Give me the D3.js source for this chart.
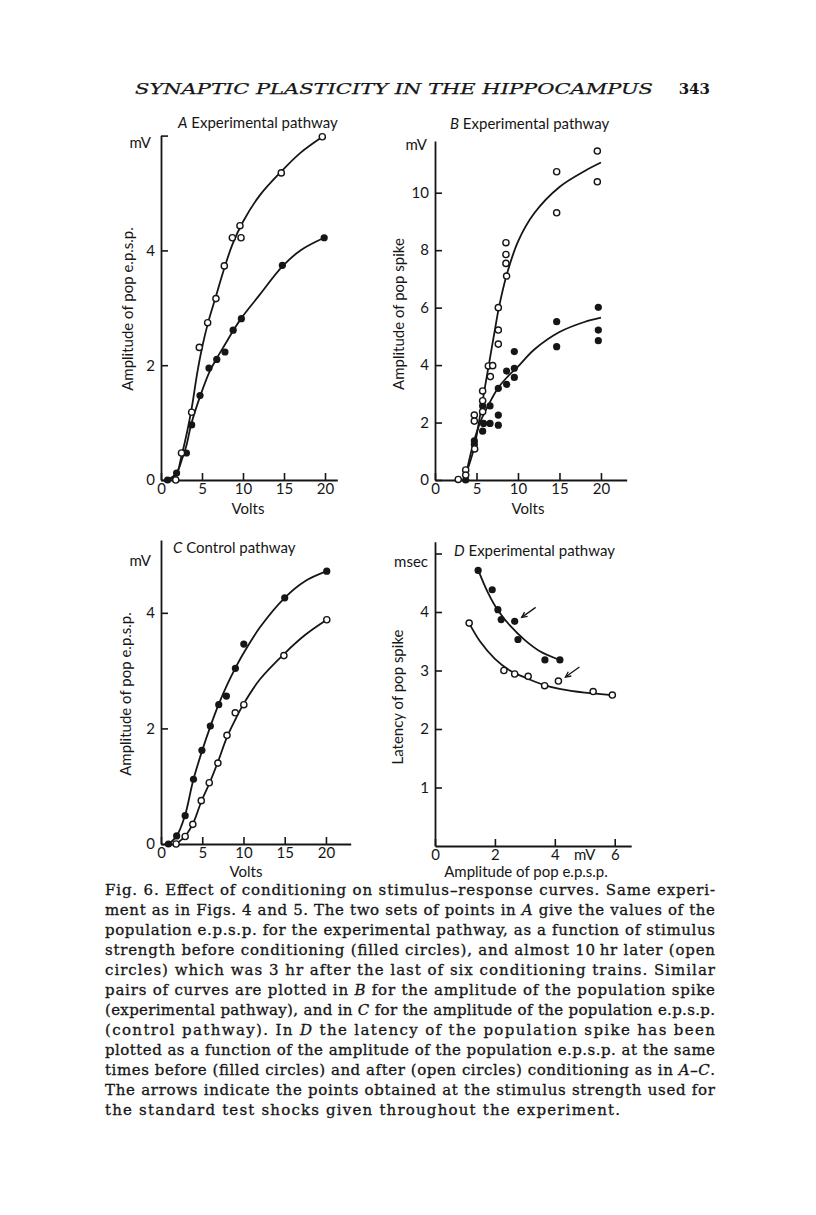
<!DOCTYPE html>
<html><head><meta charset="utf-8">
<script src="https://cdn.jsdelivr.net/npm/d3@7"></script>
<style>
body{margin:0;background:#fff;}
svg{display:block;}
</style></head><body>
<svg id="c" width="816" height="1215"></svg>
<script>
// ---------- DATA ----------
// Panel A: amplitude of pop e.p.s.p. (mV) vs stimulus (Volts)
const aFilled = [[0.8,0],[1.9,0.12],[3.1,0.47],[3.74,0.96],[4.76,1.47],[5.85,1.95],[6.8,2.10],[7.8,2.23],[8.8,2.61],[9.8,2.81],[14.8,3.74],[19.9,4.22]];
const aOpen   = [[1.8,0],[2.5,0.47],[3.74,1.18],[4.67,2.31],[5.69,2.74],[6.7,3.16],[7.72,3.73],[8.7,4.22],[9.63,4.43],[9.76,4.22],[14.67,5.35],[19.67,5.98]];
const aFilledCurve = [[0.8,0],[1.9,0.12],[2.6,0.38],[3.1,0.6],[3.7,0.98],[4.8,1.47],[5.9,1.88],[6.8,2.12],[7.8,2.36],[8.8,2.6],[9.8,2.82],[12,3.22],[14.8,3.72],[17,4.0],[19.9,4.22]];
const aOpenCurve   = [[0.8,0],[1.8,0.07],[2.5,0.42],[3.2,0.85],[3.8,1.3],[4.4,1.85],[5.0,2.3],[5.7,2.72],[6.7,3.2],[7.7,3.68],[8.7,4.1],[10,4.5],[12,4.95],[14.7,5.38],[17,5.7],[19.7,5.98]];
const aXTicks = [0,5,10,15,20];
const aYTicks = [0,2,4,6];

// Panel B: amplitude of pop spike (mV) vs stimulus (Volts)
const bOpen = [[2.8,0.02],[3.7,0.35],[3.7,0.17],[4.74,2.26],[4.74,2.05],[4.78,1.08],[5.74,2.76],[5.74,2.38],[5.74,3.10],[6.43,3.97],[6.95,3.98],[6.67,3.6],[7.63,6.0],[7.63,5.22],[7.63,4.73],[8.55,8.26],[8.55,7.85],[8.55,7.54],[8.63,7.1],[14.66,10.73],[14.66,9.3],[19.56,11.45],[19.56,10.38]];
const bFilled = [[3.7,0],[4.74,1.36],[4.74,1.24],[5.74,2.58],[5.74,1.7],[5.85,1.97],[6.63,2.58],[6.63,1.97],[7.63,3.19],[7.63,2.26],[7.63,1.91],[8.63,3.79],[8.63,3.33],[9.56,4.47],[9.56,3.89],[9.56,3.57],[14.66,5.51],[14.66,4.64],[19.68,6.01],[19.68,5.22],[19.68,4.85]];
const bOpenCurve   = [[3.5,0],[4.7,1.1],[5.4,2.2],[6.0,3.2],[6.6,4.2],[7.2,5.2],[7.7,6.0],[8.6,7.1],[10,8.3],[12,9.3],[15,10.2],[18,10.75],[20,11.05]];
const bFilledCurve = [[3.6,0],[4.6,1.25],[5.5,2.05],[6.6,2.7],[7.6,3.2],[8.6,3.55],[10,3.95],[12,4.55],[15,5.15],[18,5.5],[20,5.65]];
const bXTicks = [0,5,10,15,20];
const bYTicks = [0,2,4,6,8,10];

// Panel C: control pathway, amplitude of pop e.p.s.p. (mV) vs Volts
const cFilled = [[0.9,0],[1.9,0.14],[2.93,0.49],[3.94,1.12],[4.96,1.62],[5.98,2.04],[7.0,2.41],[7.93,2.56],[9.02,3.04],[10.04,3.46],[15.0,4.26],[20.1,4.72]];
const cOpen   = [[1.83,0],[2.93,0.13],[3.86,0.34],[4.88,0.75],[5.85,1.06],[6.9,1.40],[8.0,1.88],[9.0,2.27],[10.04,2.41],[14.9,3.26],[20.1,3.88]];
const cFilledCurve = [[0.9,0],[1.9,0.14],[2.9,0.49],[3.9,1.1],[5,1.62],[6,2.04],[7,2.42],[8,2.75],[9,3.04],[10,3.3],[12,3.75],[15,4.26],[17.5,4.55],[20.1,4.72]];
const cOpenCurve   = [[1.8,0],[2.9,0.13],[3.9,0.36],[4.9,0.74],[5.9,1.06],[6.9,1.42],[8,1.85],[9,2.15],[10,2.42],[12,2.85],[15,3.3],[17.5,3.62],[20.1,3.88]];
const cXTicks = [0,5,10,15,20];
const cYTicks = [0,2,4];

// Panel D: latency of pop spike (msec) vs amplitude of pop e.p.s.p. (mV)
const dFilled = [[1.44,4.71],[1.91,4.38],[2.10,4.04],[2.21,3.87],[2.66,3.84],[2.77,3.53],[3.67,3.18],[4.17,3.18]];
const dOpen   = [[1.14,3.81],[2.30,3.0],[2.66,2.94],[3.11,2.90],[3.66,2.74],[4.12,2.82],[5.28,2.64],[5.92,2.58]];
const dFilledCurve = [[1.44,4.72],[1.75,4.35],[2.1,4.03],[2.5,3.77],[3,3.52],[3.5,3.33],[4.17,3.18]];
const dOpenCurve   = [[1.14,3.81],[1.5,3.5],[2,3.2],[2.5,3.0],[3,2.88],[3.6,2.76],[4.2,2.68],[5,2.62],[5.92,2.58]];
const dArrowTargets = [[2.66,3.84],[4.12,2.82]];
const dXTicks = [0,2,4,6];
const dYTicks = [1,2,3,4,5];

const captionLines = [
  [["Fig. 6. Effect of conditioning on stimulus\u2013response curves. Same experi-",0]],
  [["ment as in Figs. 4 and 5. The two sets of points in ",0],["A",1],[" give the values of the",0]],
  [["population e.p.s.p. for the experimental pathway, as a function of stimulus",0]],
  [["strength before conditioning (filled circles), and almost 10\u2009hr later (open",0]],
  [["circles) which was 3 hr after the last of six conditioning trains. Similar",0]],
  [["pairs of curves are plotted in ",0],["B",1],[" for the amplitude of the population spike",0]],
  [["(experimental pathway), and in ",0],["C",1],[" for the amplitude of the population e.p.s.p.",0]],
  [["(control pathway). In ",0],["D",1],[" the latency of the population spike has been",0]],
  [["plotted as a function of the amplitude of the population e.p.s.p. at the same",0]],
  [["times before (filled circles) and after (open circles) conditioning as in ",0],["A\u2013C",1],[".",0]],
  [["The arrows indicate the points obtained at the stimulus strength used for",0]],
  [["the standard test shocks given throughout the experiment.",0]]
];

// ---------- DRAWING ----------
const svg = d3.select('#c');
const ink = '#161616';
const sans = 'Lato, "Open Sans", sans-serif';
const serif = '"DejaVu Serif", "Liberation Serif", serif';
const fs = 15;
svg.append('rect').attr('width',816).attr('height',1215).attr('fill','#fff');

function panel(cfg){
  const g = svg.append('g');
  const x = d3.scaleLinear().domain(cfg.xDomain).range(cfg.xRange);
  const y = d3.scaleLinear().domain(cfg.yDomain).range(cfg.yRange);
  const xa = g.append('g').attr('transform',`translate(0,${cfg.yRange[0]})`)
    .call(d3.axisBottom(x).tickValues(cfg.xTicks).tickSize(-7).tickSizeOuter(0).tickPadding(3)
      .tickFormat(cfg.xFmt || d3.format('d')));
  const ya = g.append('g').attr('transform',`translate(${cfg.xRange[0]},0)`)
    .call(d3.axisLeft(y).tickValues(cfg.yTicks).tickSize(-7).tickSizeOuter(0).tickPadding(6)
      .tickFormat(cfg.yFmt || d3.format('d')));
  [xa,ya].forEach(a=>{
    a.select('.domain').attr('stroke',ink).attr('stroke-width',1.8);
    a.selectAll('.tick line').attr('stroke',ink).attr('stroke-width',1.6);
    a.selectAll('.tick text').attr('fill',ink).attr('font-family',sans).attr('font-size',fs);
  });
  const line = d3.line().x(d=>x(d[0])).y(d=>y(d[1])).curve(d3.curveCatmullRom.alpha(0.5));
  cfg.curves.forEach(c=>{
    g.append('path').attr('d',line(c)).attr('fill','none').attr('stroke',ink).attr('stroke-width',1.8);
  });
  g.selectAll('circle.f').data(cfg.filled).join('circle').attr('class','f')
    .attr('cx',d=>x(d[0])).attr('cy',d=>y(d[1])).attr('r',3.6).attr('fill',ink);
  g.selectAll('circle.o').data(cfg.open).join('circle').attr('class','o')
    .attr('cx',d=>x(d[0])).attr('cy',d=>y(d[1])).attr('r',3.1)
    .attr('fill','#fff').attr('stroke',ink).attr('stroke-width',1.4);
  // title
  const t = g.append('text').attr('x',cfg.title.x).attr('y',cfg.title.y)
    .attr('font-family',sans).attr('font-size',fs).attr('fill',ink);
  t.append('tspan').attr('font-style','italic').text(cfg.title.letter);
  t.append('tspan').text(' ' + cfg.title.text);
  // unit
  g.append('text').attr('x',cfg.unit.x).attr('y',cfg.unit.y).attr('text-anchor','end')
    .attr('font-family',sans).attr('font-size',fs).attr('fill',ink).text(cfg.unit.text);
  // y label
  g.append('text').attr('transform',`translate(${cfg.ylab.x},${cfg.ylab.y}) rotate(-90)`)
    .attr('text-anchor','middle').attr('font-family',sans).attr('font-size',fs).attr('fill',ink).text(cfg.ylab.text);
  // x label
  g.append('text').attr('x',cfg.xlab.x).attr('y',cfg.xlab.y).attr('text-anchor','middle')
    .attr('font-family',sans).attr('font-size',fs).attr('fill',ink).text(cfg.xlab.text);
  return {g,x,y};
}

// Panel A
panel({
  xDomain:[0,21.5], xRange:[161,337.3], yDomain:[0,6], yRange:[480,135.6],
  xTicks:aXTicks, yTicks:aYTicks, yFmt:d=>d===6?'':d,
  curves:[aOpenCurve,aFilledCurve], filled:aFilled, open:aOpen,
  title:{x:178,y:128,letter:'A',text:'Experimental pathway'},
  unit:{x:151,y:148,text:'mV'},
  ylab:{x:133,y:309,text:'Amplitude of pop e.p.s.p.'},
  xlab:{x:248,y:514,text:'Volts'}
});
// Panel B
panel({
  xDomain:[0,23.1], xRange:[435,626.7], yDomain:[0,11.8], yRange:[480,141],
  xTicks:bXTicks, yTicks:bYTicks,
  curves:[bOpenCurve,bFilledCurve], filled:bFilled, open:bOpen,
  title:{x:450,y:129,letter:'B',text:'Experimental pathway'},
  unit:{x:427,y:150,text:'mV'},
  ylab:{x:404,y:314,text:'Amplitude of pop spike'},
  xlab:{x:528,y:514,text:'Volts'}
});
// Panel C
panel({
  xDomain:[0,23.0], xRange:[161,350.7], yDomain:[0,5.26], yRange:[844,540],
  xTicks:cXTicks, yTicks:cYTicks,
  curves:[cFilledCurve,cOpenCurve], filled:cFilled, open:cOpen,
  title:{x:173,y:553,letter:'C',text:'Control pathway'},
  unit:{x:151,y:566,text:'mV'},
  ylab:{x:131,y:694,text:'Amplitude of pop e.p.s.p.'},
  xlab:{x:246,y:877,text:'Volts'}
});
// Panel D
const D = panel({
  xDomain:[0,6.55], xRange:[435,631.2], yDomain:[0,5.2], yRange:[846,541.8],
  xTicks:dXTicks, yTicks:dYTicks, yFmt:d=>d===5?'':d,
  curves:[dFilledCurve,dOpenCurve], filled:dFilled, open:dOpen,
  title:{x:454,y:556,letter:'D',text:'Experimental pathway'},
  unit:{x:428,y:567,text:'msec'},
  ylab:{x:403,y:697,text:'Latency of pop spike'},
  xlab:{x:526,y:877,text:'Amplitude of pop e.p.s.p.'}
});
D.g.append('text').attr('x',D.x(5)).attr('y',D.y(0)+3).attr('dy','0.71em').attr('text-anchor','middle')
  .attr('font-family',sans).attr('font-size',fs).attr('fill',ink).text('mV');
// arrows
dArrowTargets.forEach(p=>{
  const hx = D.x(p[0])+7, hy = D.y(p[1])-4;
  const tx = hx+14, ty = hy-10;
  D.g.append('line').attr('x1',tx).attr('y1',ty).attr('x2',hx).attr('y2',hy)
    .attr('stroke',ink).attr('stroke-width',1.3);
  const ang = Math.atan2(hy-ty,hx-tx);
  const L=6, w=0.45;
  D.g.append('path').attr('d',`M${hx-L*Math.cos(ang-w)},${hy-L*Math.sin(ang-w)} L${hx},${hy} L${hx-L*Math.cos(ang+w)},${hy-L*Math.sin(ang+w)}`)
    .attr('fill','none').attr('stroke',ink).attr('stroke-width',1.3);
});

// header
svg.append('text').attr('x',135).attr('y',94).attr('font-family',serif).attr('font-style','italic')
  .attr('font-size',15).attr('fill',ink).attr('stroke',ink).attr('stroke-width',0.25)
  .attr('textLength',518).attr('lengthAdjust','spacingAndGlyphs')
  .text('SYNAPTIC PLASTICITY IN THE HIPPOCAMPUS');
svg.append('text').attr('x',710).attr('y',94).attr('text-anchor','end').attr('font-family',serif)
  .attr('font-weight','bold').attr('font-size',15).attr('fill',ink).text('343');

// caption (justified lines; last line set at the reference's natural width)
const capX = 105, capW = 610, capLastW = 515, capY0 = 895, capDY = 20;
captionLines.forEach((segs,i)=>{
  const t = svg.append('text').attr('x',capX).attr('y',capY0+i*capDY)
    .attr('font-family',serif).attr('font-size',15).attr('fill',ink)
    .attr('stroke',ink).attr('stroke-width',0.3)
    .attr('textLength', i < captionLines.length-1 ? capW : capLastW)
    .attr('lengthAdjust','spacing');
  segs.forEach(s=>{ t.append('tspan').attr('font-style',s[1]?'italic':'normal').text(s[0]); });
});
</script>
</body></html>
